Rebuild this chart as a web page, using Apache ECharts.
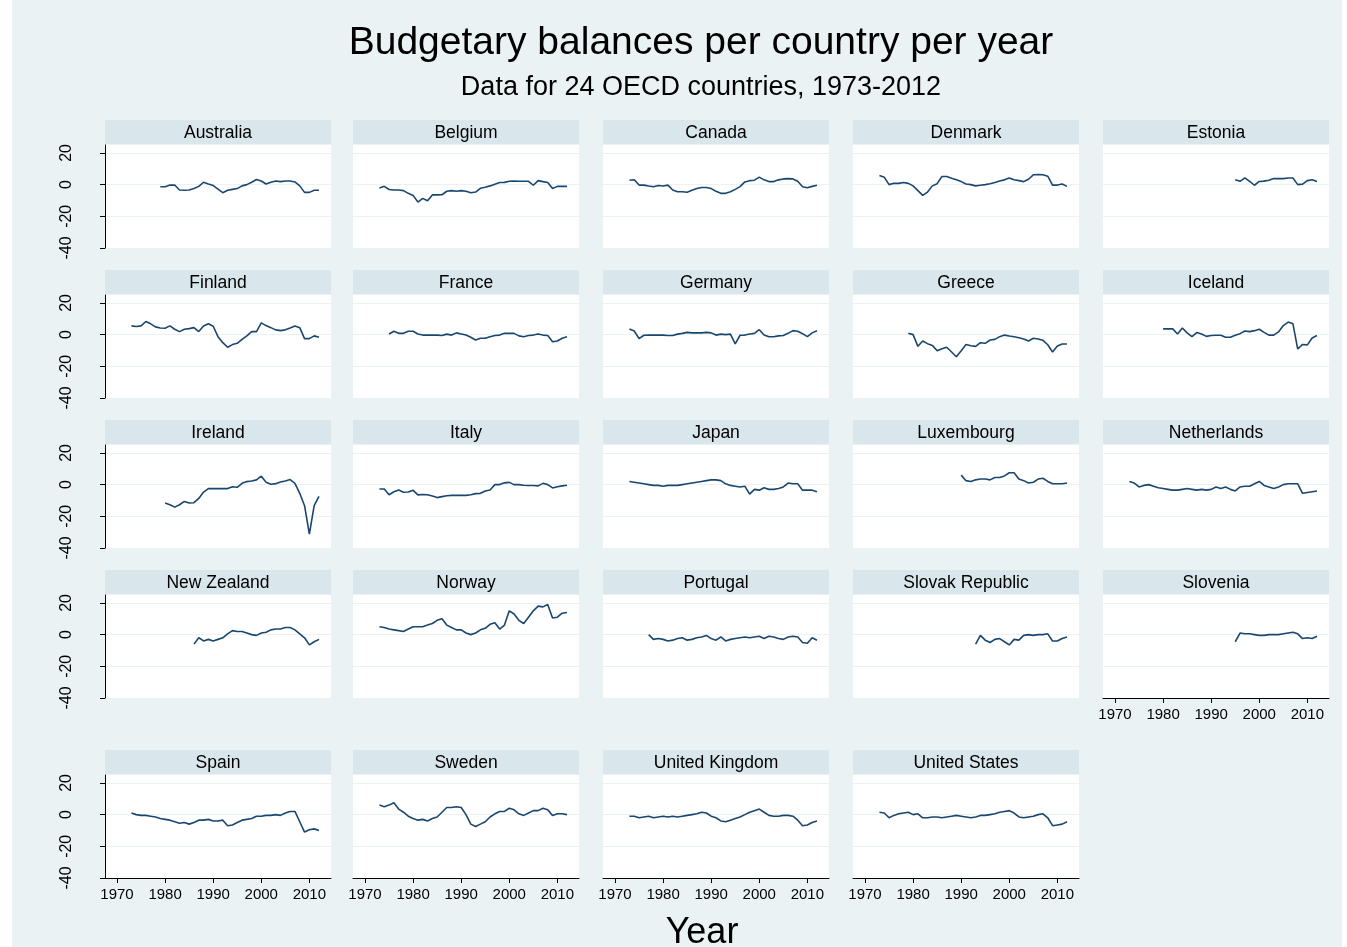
<!DOCTYPE html>
<html>
<head>
<meta charset="utf-8">
<script src="https://cdn.jsdelivr.net/npm/echarts@6/dist/echarts.min.js"></script>
<style>
html, body { margin: 0; padding: 0; background: #ffffff; }
#chart { width: 1347px; height: 947px; }
</style>
</head>
<body>
<div id="chart"></div>
<script>
// Budgetary balance (% of GDP) by country, one array per country, first year given below
const australia   = [-1.3,-1.3,-0.3,-0.2,-3.4,-3.6,-3.4,-2.5,-1.1,1.5,0.4,-0.6,-2.8,-5.1,-3.6,-3,-2.5,-0.8,0,1.5,3.2,2.3,0.4,1.5,2.3,1.9,2.3,2.3,1.7,-0.8,-4.9,-4.9,-3.6,-3.6];
const belgium     = [-2.1,-1.1,-3.1,-3.4,-3.4,-3.8,-5.5,-6.8,-11,-8.7,-10.2,-6.5,-6.5,-6.4,-4.2,-3.8,-4.2,-3.8,-4.2,-5.1,-4.7,-2.3,-1.7,-0.8,0.3,1.3,1.4,2.1,2.3,2.1,2.1,2.1,-0.4,2.5,1.9,1.3,-2.5,-1.1,-1.1,-1.1];
const canada      = [2.8,3.1,-0.3,-0.3,-0.9,-1.4,-0.6,-0.9,-0.3,-3.4,-4.5,-4.5,-4.8,-3.6,-2.5,-1.8,-1.8,-2.5,-4.2,-5.5,-5.5,-4.5,-3,-1.3,1.7,2.5,2.8,4.7,3,1.9,1.9,3,3.6,3.8,3.6,2.1,-1.3,-2,-1.1,-0.4];
const denmark     = [5.7,4.7,0,0.8,0.8,1.3,0.8,-0.8,-3.8,-6.8,-4.7,-0.8,0.6,5.1,5.1,4,3,1.9,0.4,0,-0.8,-0.4,0,0.6,1.3,2.3,3,4.2,3.1,2.5,1.9,3.4,6.2,6.4,6.2,5.3,-0.3,-0.3,0.4,-1.1];
const estonia     = [3.1,2.1,4.2,2.1,-0.4,2,2.2,2.8,3.8,3.8,3.8,4.2,4.2,0,0.3,2.5,3.1,1.9];
const finland     = [5.5,5.1,5.5,8.3,6.8,4.9,4.2,4,5.5,3.4,1.9,3.4,3.8,4.4,1.9,5.5,6.8,5.3,-1.3,-5.1,-8,-6.3,-5.5,-3,-0.8,1.9,1.9,7.4,5.7,4.4,3,2.5,3,4.2,5.5,4.4,-2.5,-2.5,-0.8,-1.7];
const france      = [0.4,2.1,0.8,0.8,2.1,2.1,0.4,-0.3,-0.3,-0.3,-0.3,-0.6,0.3,-0.3,1.1,0.4,-0.3,-1.7,-3.4,-2.3,-2.3,-1.3,-0.6,-0.3,0.8,0.8,0.8,-0.8,-1.3,-0.6,-0.3,0.4,-0.3,-0.6,-4.5,-4,-2.3,-1.4];
const germany     = [3.6,2.3,-2.5,-0.4,-0.3,-0.3,-0.3,-0.3,-0.6,-0.6,0.3,0.8,1.4,1.1,1.1,1.1,1.4,1.1,-0.3,0.3,0,0.3,-5.9,-0.4,-0.3,0.4,0.8,3.1,-0.3,-1.3,-1.3,-0.8,-0.6,0.8,2.5,2.1,0.6,-1.3,1.1,2.5];
const greece      = [0.9,0,-7.4,-4,-5.7,-6.8,-10.2,-8.9,-8,-11,-14,-10.2,-6.2,-7,-7.4,-5.1,-5.5,-3.4,-3,-1.3,-0.3,-0.9,-1.4,-2,-2.8,-4,-2.3,-2.8,-3.6,-6.4,-11,-7.2,-5.9,-5.9];
const iceland     = [3.6,3.6,3.6,0.4,4.2,1.1,-1.3,1.3,0.4,-1.1,-0.6,-0.4,-0.4,-1.7,-1.7,-0.4,0.6,2.3,1.9,2.5,3.4,1.4,-0.3,-0.3,1.7,5.7,7.9,6.8,-9.1,-6.2,-6.5,-2.1,-0.6];
const ireland     = [-11.6,-12.7,-14.2,-12.7,-10.6,-11.6,-11.4,-8.7,-4.7,-2.5,-2.5,-2.5,-2.5,-2.5,-1.3,-1.7,0.8,1.9,2.3,3,5.3,1.5,0.2,0.6,1.7,2.3,3.2,0.8,-5.5,-13.3,-31.3,-13.3,-7.4];
const italy       = [-2.8,-2.8,-6.4,-4.5,-3.4,-4.8,-4.7,-3.6,-6.5,-6.2,-6.4,-7.2,-8.2,-7.6,-7,-6.8,-6.8,-6.8,-6.8,-6.4,-5.7,-5.5,-4,-3.4,0,0,1.1,1.4,0,0,-0.4,-0.6,-0.6,-0.8,0.8,0,-2.1,-1.3,-0.8,-0.4];
const japan       = [2,1.5,1,0.5,0,-0.5,-0.5,-1,-0.5,-0.5,-0.5,0,0.5,1,1.5,2,2.5,3,3,2.5,0.5,-0.5,-1,-1.5,-1,-6,-3,-3.5,-2,-3,-3,-2.5,-1.5,1,0.5,0.5,-3.5,-3.5,-3.5,-4.5];
const luxembourg  = [6,2.5,2,3,3.5,3.5,3,4.5,4.5,5.5,7.5,7.5,3.5,2.5,1,1.5,3.5,4,2,0.5,0.5,0.5,1];
const netherlands = [2,1,-1.5,-0.5,0,-1,-2,-2.5,-3,-3.5,-3.5,-3,-2.5,-3,-3.5,-3,-3.5,-3,-1.5,-2.5,-1.5,-3,-4,-1.5,-1,-1,0.5,2,-0.5,-1.5,-2.5,-1.5,0,0.5,0.5,0.5,-5.5,-5,-4.5,-4];
const newZealand  = [-6,-2,-4,-3,-4,-3,-2,0.5,2.5,2,2,1,0,-0.5,1,1.5,3,3.5,3.5,4.5,4.5,3,0.5,-2,-6.5,-4.5,-3];
const norway      = [5,4.5,3.5,3,2.5,2,3.5,5,5,5,6,7,9,10,6,4.5,3,3,1,0,1,3,4,6.5,7.5,3.5,6,15,13,9,7,11,15,18,17.5,19,10.5,11,13.5,14];
const portugal    = [0,-3,-2.5,-3,-4,-3.5,-2.5,-2,-3.5,-3,-2,-1.5,-0.5,-2.5,-3.5,-1.5,-4,-3,-2.5,-2,-1.5,-2,-1.5,-1,-2.5,-1,-1.5,-2.5,-3,-1.5,-1,-1.5,-5,-5.5,-2,-3.5];
const slovakia    = [-6,-0.5,-3.5,-5,-3,-2.5,-4.5,-6.5,-3,-3.5,-0.5,0,-0.5,0,0,0.5,-4,-4,-2.5,-1.5];
const slovenia    = [-4.5,1,0.5,0.5,0,-0.5,-0.5,0,0,0,0.5,1,1.5,0.5,-2.5,-2,-2.5,-1];
const spain       = [1,0,-0.5,-0.5,-1,-1.5,-2.5,-3,-3.5,-4.5,-5.5,-5,-6,-5,-3.5,-3.5,-3,-4,-4,-3.5,-7,-6.5,-5,-3.5,-3,-2.5,-1,-1,-0.5,-0.5,0,-0.5,1,2,2,-4.5,-11,-9.5,-9,-10];
const sweden      = [6,5,6,7.5,3.5,1.5,-1,-2.5,-3.5,-3,-4,-2.5,-1.5,1.5,4.5,4.5,5,4.5,0,-6,-7.5,-6,-4.5,-1.5,0.5,2,2,4,3,0.5,-0.5,1,2.5,2.5,4,3,-0.5,0.5,0.5,0];
const unitedKingdom = [-1,-1,-2,-1.5,-1,-2,-1.5,-1,-1.5,-1,-1.5,-1,-0.5,0,0.5,1.5,1,-1,-2,-4,-4.5,-3.5,-2.5,-1.5,0,1.5,2.5,3.5,1.5,-0.5,-1,-1,-0.5,-0.5,-1,-3.5,-7,-6.5,-5,-4];
const unitedStates  = [1.5,1,-2,-0.5,0.5,1,1.5,0,0.5,-2,-2,-1.5,-1.5,-2,-1.5,-1,-0.5,-1,-1.5,-2,-1.5,-0.5,-0.5,0,0.5,1.5,2,2.5,1,-1.5,-2,-1.5,-1,0,0.5,-2,-7,-6.5,-6,-4.5];

const countryNames = ['Australia','Belgium','Canada','Denmark','Estonia','Finland','France','Germany','Greece','Iceland',
  'Ireland','Italy','Japan','Luxembourg','Netherlands','New Zealand','Norway','Portugal','Slovak Republic','Slovenia',
  'Spain','Sweden','United Kingdom','United States'];
const firstYears = [1979,1973,1973,1973,1995,1973,1975,1973,1979,1980,1980,1973,1973,1990,1973,1986,1973,1977,1993,1995,1973,1973,1973,1973];
const seriesValues = [australia,belgium,canada,denmark,estonia,finland,france,germany,greece,iceland,ireland,italy,
  japan,luxembourg,netherlands,newZealand,norway,portugal,slovakia,slovenia,spain,sweden,unitedKingdom,unitedStates];

const yTicks = [-40, -20, 0, 20];
const xTicks = [1970, 1980, 1990, 2000, 2010];

// panel layout
const colLeft = [105, 353, 603, 853, 1103];
const rowTop = [120, 270, 420, 570, 750];
const panelW = 226, stripH = 24, plotH = 103;
const FONT = '"Liberation Sans", Arial, Helvetica, sans-serif';
const LINE = '#1a476f';
const AXIS = '#000000';

const grids = [], xAxes = [], yAxes = [], series = [];
const graphics = [
  { type: 'rect', shape: { x: 12, y: 0, width: 1330, height: 947 }, style: { fill: '#eaf2f3' }, z: -10 },
  { type: 'text', x: 701, y: 43, style: { text: 'Budgetary balances per country per year', font: '39px ' + FONT, fill: '#000', textAlign: 'center', textVerticalAlign: 'middle' } },
  { type: 'text', x: 701, y: 88, style: { text: 'Data for 24 OECD countries, 1973-2012', font: '27px ' + FONT, fill: '#000', textAlign: 'center', textVerticalAlign: 'middle' } },
  { type: 'text', x: 702, y: 933, style: { text: 'Year', font: '36px ' + FONT, fill: '#000', textAlign: 'center', textVerticalAlign: 'middle' } }
];

countryNames.forEach((name, i) => {
  const col = i % 5, row = Math.floor(i / 5);
  const left = colLeft[col], top = rowTop[row];
  const firstCol = col === 0;
  const bottomAxis = i >= 19;

  graphics.push({ type: 'rect', shape: { x: left, y: top, width: panelW, height: stripH }, style: { fill: '#d9e6eb' } });
  graphics.push({ type: 'text', x: left + panelW / 2, y: top + stripH / 2 + 1, style: { text: name, font: '17.5px ' + FONT, fill: '#000', textAlign: 'center', textVerticalAlign: 'middle' } });

  grids.push({ left: left, top: top + stripH + 1, width: panelW, height: plotH, show: true, backgroundColor: '#ffffff', borderWidth: 0 });

  xAxes.push({
    type: 'value', gridIndex: i, min: 1967.5, max: 2014.5,
    show: bottomAxis,
    axisLine: { show: true, onZero: false, lineStyle: { color: AXIS, width: 1 } },
    axisTick: { show: true, length: 5, customValues: xTicks, lineStyle: { color: AXIS } },
    axisLabel: { show: true, customValues: xTicks, formatter: v => String(v), fontSize: 15, fontFamily: FONT, color: '#000', margin: 9 },
    splitLine: { show: false }
  });

  yAxes.push({
    type: 'value', gridIndex: i, min: -40, max: 25, interval: 20,
    axisLine: { show: firstCol, lineStyle: { color: AXIS, width: 1 } },
    axisTick: { show: firstCol, length: 5, customValues: yTicks, lineStyle: { color: AXIS } },
    axisLabel: { show: firstCol, customValues: yTicks, formatter: v => String(v), rotate: 90, fontSize: 16, fontFamily: FONT, color: '#000', margin: 30 },
    splitLine: { show: true, lineStyle: { color: '#eaf2f3', width: 1 } }
  });

  const vals = seriesValues[i];
  series.push({
    type: 'line', xAxisIndex: i, yAxisIndex: i, name: name,
    data: vals.map((v, k) => [firstYears[i] + k, v]),
    showSymbol: false, symbol: 'none', silent: true,
    lineStyle: { color: LINE, width: 1.6 }
  });
});

const chart = echarts.init(document.getElementById('chart'), null, { renderer: 'canvas' });
chart.setOption({
  animation: false,
  backgroundColor: '#ffffff',
  grid: grids,
  xAxis: xAxes,
  yAxis: yAxes,
  series: series,
  graphic: graphics
});
</script>
</body>
</html>
